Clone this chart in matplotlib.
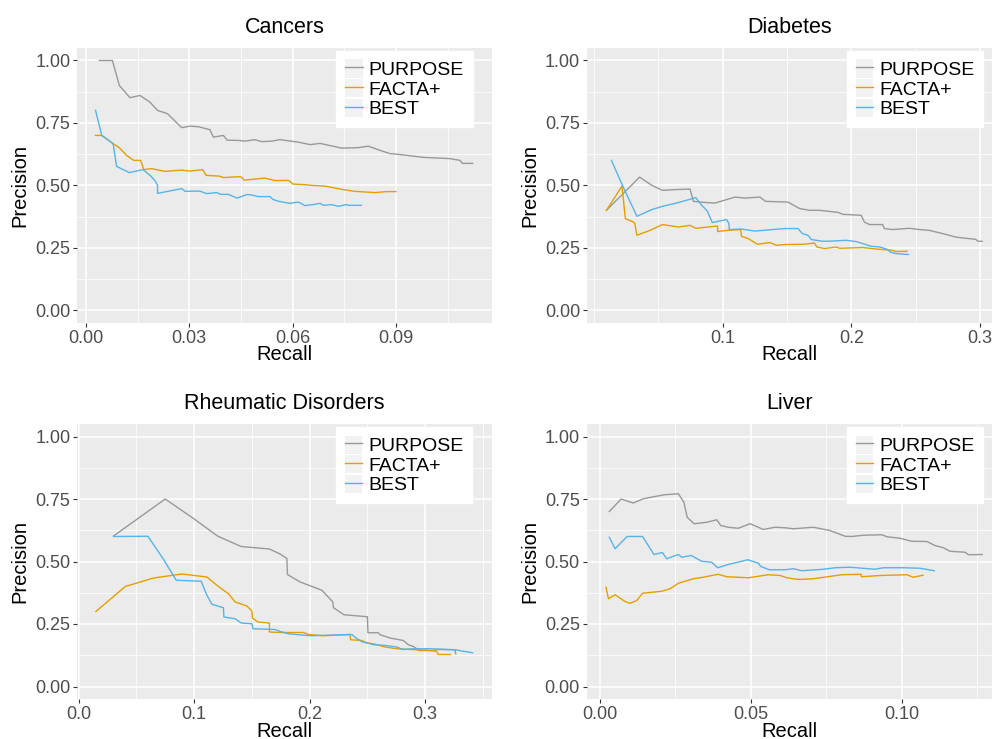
import matplotlib
matplotlib.use('Agg')
import matplotlib.pyplot as plt
from matplotlib.patches import Rectangle
from matplotlib.lines import Line2D
from matplotlib.legend_handler import HandlerTuple

plt.rcParams['font.family'] = ['Liberation Sans', 'DejaVu Sans']

# ---- data: Cancers ----
cancers_purpose_recall = [0.0039, 0.0077, 0.0097, 0.0128, 0.0157, 0.0186, 0.0208, 0.0237, 0.0278, 0.0302,
                          0.0326, 0.0360, 0.0370, 0.0399, 0.0410, 0.0442, 0.0462, 0.0491, 0.0510, 0.0539,
                          0.0563, 0.0617, 0.0651, 0.0680, 0.0743, 0.0791, 0.0820, 0.0854, 0.0883, 0.0902,
                          0.0980, 0.1057, 0.1086, 0.1093, 0.1123]
cancers_purpose_precision = [1.0, 1.0, 0.90, 0.851, 0.86, 0.833, 0.80, 0.787, 0.731, 0.737,
                             0.735, 0.723, 0.693, 0.70, 0.681, 0.68, 0.677, 0.683, 0.675, 0.677,
                             0.683, 0.673, 0.663, 0.668, 0.649, 0.651, 0.657, 0.64, 0.627, 0.625,
                             0.612, 0.607, 0.60, 0.588, 0.588]
cancers_facta_recall = [0.0028, 0.0046, 0.0079, 0.0097, 0.0118, 0.0139, 0.0159, 0.0168, 0.0191, 0.0229,
                        0.0278, 0.0302, 0.0339, 0.0349, 0.0387, 0.0399, 0.0449, 0.0460, 0.0520, 0.0549,
                        0.0588, 0.0602, 0.0631, 0.0655, 0.0694, 0.0747, 0.0781, 0.0839, 0.0873, 0.0900]
cancers_facta_precision = [0.70, 0.70, 0.667, 0.651, 0.62, 0.60, 0.60, 0.563, 0.567, 0.556,
                           0.561, 0.557, 0.563, 0.54, 0.537, 0.531, 0.535, 0.521, 0.529, 0.519,
                           0.52, 0.505, 0.503, 0.50, 0.497, 0.483, 0.476, 0.471, 0.475, 0.475]
cancers_best_recall = [0.0028, 0.0046, 0.0079, 0.0089, 0.0126, 0.0166, 0.0186, 0.0200, 0.0208, 0.0208,
                       0.0249, 0.0278, 0.0288, 0.0331, 0.0350, 0.0380, 0.0391, 0.0413, 0.0439, 0.0467,
                       0.0480, 0.0500, 0.0534, 0.0544, 0.0560, 0.0592, 0.0617, 0.0636, 0.0660, 0.0680,
                       0.0690, 0.0713, 0.0733, 0.0757, 0.0762, 0.0800]
cancers_best_precision = [0.80, 0.70, 0.667, 0.576, 0.551, 0.563, 0.54, 0.52, 0.50, 0.468,
                          0.479, 0.487, 0.476, 0.477, 0.467, 0.471, 0.464, 0.464, 0.449, 0.463,
                          0.462, 0.455, 0.455, 0.443, 0.436, 0.428, 0.433, 0.419, 0.423, 0.428,
                          0.42, 0.423, 0.416, 0.423, 0.42, 0.42]

# ---- data: Diabetes ----
diabetes_purpose_recall = [0.0097, 0.0355, 0.045, 0.0533, 0.0631, 0.0747, 0.0773, 0.085, 0.094, 0.1096,
                           0.1173, 0.129, 0.1333, 0.1508, 0.1599, 0.1676, 0.1754, 0.1896, 0.1934, 0.2077,
                           0.2102, 0.2141, 0.2244, 0.2257, 0.2321, 0.245, 0.2528, 0.2605, 0.2709, 0.2812,
                           0.289, 0.2967, 0.2985, 0.3018]
diabetes_purpose_precision = [0.40, 0.533, 0.50, 0.48, 0.483, 0.485, 0.436, 0.432, 0.429, 0.453,
                              0.449, 0.453, 0.436, 0.433, 0.407, 0.40, 0.40, 0.392, 0.384, 0.38,
                              0.353, 0.343, 0.343, 0.327, 0.323, 0.328, 0.323, 0.32, 0.307, 0.293,
                              0.288, 0.284, 0.276, 0.276]
diabetes_facta_recall = [0.0097, 0.0218, 0.0244, 0.0316, 0.0334, 0.0437, 0.0533, 0.0657, 0.0747, 0.0791,
                         0.0961, 0.0961, 0.1044, 0.114, 0.1147, 0.1199, 0.1271, 0.1367, 0.1418, 0.1483,
                         0.1625, 0.1715, 0.1733, 0.1792, 0.1883, 0.191, 0.2089, 0.2218, 0.2321, 0.2343,
                         0.2433]
diabetes_facta_precision = [0.40, 0.497, 0.367, 0.351, 0.30, 0.32, 0.343, 0.333, 0.34, 0.328,
                            0.337, 0.315, 0.32, 0.323, 0.296, 0.287, 0.264, 0.271, 0.26, 0.263,
                            0.264, 0.269, 0.253, 0.247, 0.253, 0.248, 0.251, 0.244, 0.24, 0.235,
                            0.236]
diabetes_best_recall = [0.0136, 0.0218, 0.0334, 0.045, 0.0533, 0.0657, 0.0791, 0.0838, 0.0881, 0.092,
                        0.1031, 0.1049, 0.1052, 0.1147, 0.125, 0.1483, 0.1586, 0.162, 0.1663, 0.169,
                        0.178, 0.1857, 0.196, 0.2037, 0.2089, 0.2154, 0.2224, 0.2283, 0.2303, 0.2343,
                        0.2445]
diabetes_best_precision = [0.60, 0.504, 0.376, 0.403, 0.416, 0.431, 0.451, 0.42, 0.397, 0.351,
                           0.363, 0.347, 0.323, 0.325, 0.317, 0.327, 0.327, 0.307, 0.30, 0.283,
                           0.276, 0.277, 0.28, 0.275, 0.267, 0.256, 0.253, 0.243, 0.233, 0.227,
                           0.223]

# ---- data: Rheumatic Disorders ----
rheum_purpose_recall = [0.0303, 0.075, 0.0995, 0.1206, 0.1407, 0.1652, 0.1745, 0.1803, 0.1808, 0.1918,
                        0.2106, 0.2201, 0.2206, 0.2298, 0.25, 0.2505, 0.2595, 0.261, 0.2696, 0.2811,
                        0.2855, 0.2898, 0.295, 0.307, 0.31, 0.3259, 0.3264]
rheum_purpose_precision = [0.602, 0.75, 0.672, 0.601, 0.56, 0.55, 0.53, 0.512, 0.448, 0.418,
                           0.385, 0.338, 0.315, 0.287, 0.279, 0.215, 0.215, 0.207, 0.194, 0.184,
                           0.167, 0.16, 0.144, 0.144, 0.148, 0.147, 0.131]
rheum_facta_recall = [0.015, 0.0404, 0.0649, 0.0894, 0.111, 0.1211, 0.1298, 0.1356, 0.1457, 0.15,
                      0.1505, 0.1552, 0.1652, 0.1652, 0.1745, 0.1946, 0.199, 0.2119, 0.235, 0.2355,
                      0.2452, 0.2495, 0.2552, 0.2653, 0.2754, 0.2956, 0.3014, 0.31, 0.3114, 0.3216]
rheum_facta_precision = [0.30, 0.40, 0.434, 0.45, 0.438, 0.40, 0.371, 0.338, 0.322, 0.302,
                         0.274, 0.258, 0.254, 0.218, 0.216, 0.216, 0.208, 0.203, 0.208, 0.187,
                         0.184, 0.174, 0.171, 0.158, 0.151, 0.146, 0.145, 0.141, 0.128, 0.128]
rheum_best_recall = [0.0303, 0.06, 0.0735, 0.0845, 0.1061, 0.1111, 0.1154, 0.1254, 0.1258, 0.1356,
                     0.1407, 0.1501, 0.1509, 0.1702, 0.1745, 0.1817, 0.2004, 0.2365, 0.2402, 0.2452,
                     0.2495, 0.2552, 0.2662, 0.2754, 0.2806, 0.2898, 0.3042, 0.3264, 0.3316, 0.3411]
rheum_best_precision = [0.60, 0.601, 0.509, 0.425, 0.421, 0.365, 0.329, 0.315, 0.278, 0.271,
                        0.254, 0.251, 0.231, 0.228, 0.22, 0.211, 0.203, 0.208, 0.194, 0.179,
                        0.175, 0.167, 0.164, 0.158, 0.148, 0.151, 0.151, 0.147, 0.142, 0.135]

# ---- data: Liver ----
liver_purpose_recall = [0.0031, 0.007, 0.011, 0.0144, 0.0182, 0.0215, 0.026, 0.0278, 0.0289, 0.0312,
                        0.0354, 0.0387, 0.04, 0.0425, 0.0458, 0.0497, 0.0519, 0.0541, 0.058, 0.0613,
                        0.0641, 0.0707, 0.0762, 0.0812, 0.0834, 0.0873, 0.0934, 0.0951, 0.0994, 0.1033,
                        0.1083, 0.111, 0.1138, 0.116, 0.121, 0.1221, 0.1267]
liver_purpose_precision = [0.70, 0.75, 0.734, 0.751, 0.76, 0.767, 0.771, 0.737, 0.677, 0.651,
                           0.657, 0.667, 0.644, 0.637, 0.633, 0.651, 0.64, 0.628, 0.637, 0.635,
                           0.631, 0.637, 0.624, 0.601, 0.60, 0.605, 0.607, 0.599, 0.593, 0.581,
                           0.58, 0.564, 0.555, 0.541, 0.537, 0.527, 0.528]
liver_facta_recall = [0.002, 0.0028, 0.005, 0.0083, 0.0099, 0.0122, 0.0141, 0.0205, 0.0232, 0.026,
                      0.0309, 0.0342, 0.0392, 0.042, 0.0492, 0.0558, 0.0597, 0.0619, 0.0657, 0.0707,
                      0.0801, 0.0865, 0.0866, 0.0928, 0.1017, 0.1038, 0.107]
liver_facta_precision = [0.397, 0.351, 0.367, 0.34, 0.333, 0.344, 0.373, 0.381, 0.391, 0.413,
                         0.431, 0.437, 0.449, 0.439, 0.435, 0.447, 0.444, 0.435, 0.428, 0.431,
                         0.447, 0.449, 0.439, 0.444, 0.447, 0.437, 0.445]
liver_best_recall = [0.0031, 0.005, 0.009, 0.0141, 0.0179, 0.0207, 0.0221, 0.026, 0.0271, 0.0302,
                     0.0337, 0.037, 0.039, 0.0425, 0.049, 0.0525, 0.0533, 0.0561, 0.0613, 0.0641,
                     0.0669, 0.074, 0.0779, 0.0829, 0.0911, 0.0939, 0.1005, 0.1061, 0.1108]
liver_best_precision = [0.597, 0.551, 0.60, 0.60, 0.528, 0.536, 0.511, 0.528, 0.517, 0.524,
                        0.501, 0.497, 0.475, 0.488, 0.507, 0.493, 0.48, 0.467, 0.467, 0.471,
                        0.463, 0.469, 0.475, 0.477, 0.469, 0.475, 0.475, 0.473, 0.463]

methods = ['PURPOSE', 'FACTA+', 'BEST']
colors = ['#999999', '#E69F00', '#56B4E9']

y_ticks = [0.0, 0.25, 0.5, 0.75, 1.0]
y_labels = ['0.00', '0.25', '0.50', '0.75', '1.00']

W, H = 992, 739
fig = plt.figure(figsize=(W / 100, H / 100), dpi=100)


def pixel_axes(left, top, right, bottom):
    return fig.add_axes([left / W, (H - bottom) / H, (right - left) / W, (bottom - top) / H])


panels = [
    dict(title='Cancers', box=(77.3, 48, 492, 322.7), xlim=(-0.0025, 0.1179),
         xticks=[0.0, 0.03, 0.06, 0.09], xlabels=['0.00', '0.03', '0.06', '0.09'],
         xminor=[0.015, 0.045, 0.075, 0.105], legend_anchor=(0.953, 0.99),
         series=[(cancers_purpose_recall, cancers_purpose_precision),
                 (cancers_facta_recall, cancers_facta_precision),
                 (cancers_best_recall, cancers_best_precision)]),
    dict(title='Diabetes', box=(587, 48, 992, 322.7), xlim=(-0.0054, 0.3094),
         xticks=[0.1, 0.2, 0.3], xlabels=['0.1', '0.2', '0.3'],
         xminor=[0.0, 0.05, 0.15, 0.25], legend_anchor=(0.978, 0.99),
         series=[(diabetes_purpose_recall, diabetes_purpose_precision),
                 (diabetes_facta_recall, diabetes_facta_precision),
                 (diabetes_best_recall, diabetes_best_precision)]),
    dict(title='Rheumatic Disorders', box=(77.3, 424, 491.7, 699), xlim=(-0.0011, 0.3576),
         xticks=[0.0, 0.1, 0.2, 0.3], xlabels=['0.0', '0.1', '0.2', '0.3'],
         xminor=[0.05, 0.15, 0.25, 0.35], legend_anchor=(0.953, 0.99),
         series=[(rheum_purpose_recall, rheum_purpose_precision),
                 (rheum_facta_recall, rheum_facta_precision),
                 (rheum_best_recall, rheum_best_precision)]),
    dict(title='Liver', box=(586.7, 424, 992, 699), xlim=(-0.0044, 0.1299),
         xticks=[0.0, 0.05, 0.1], xlabels=['0.00', '0.05', '0.10'],
         xminor=[0.025, 0.075, 0.125], legend_anchor=(0.978, 0.99),
         series=[(liver_purpose_recall, liver_purpose_precision),
                 (liver_facta_recall, liver_facta_precision),
                 (liver_best_recall, liver_best_precision)]),
]

for p in panels:
    ax = pixel_axes(*p['box'])
    ax.set_facecolor('#EBEBEB')
    for s in ax.spines.values():
        s.set_visible(False)

    # one line per method, legend keys get ggplot-like grey squares
    handles = []
    for (rx, py), name, col in zip(p['series'], methods, colors):
        ax.plot(rx, py, color=col, lw=1.0, label=name, zorder=3)
        handles.append((Rectangle((0, 0), 1, 1, facecolor='#F2F2F2', edgecolor='none'),
                        Line2D([], [], color=col, lw=1.0)))

    ax.set_xlim(*p['xlim'])
    ax.set_ylim(-0.05, 1.05)
    ax.set_xticks(p['xticks'])
    ax.set_xticklabels(p['xlabels'])
    ax.set_xticks(p['xminor'], minor=True)
    ax.set_yticks(y_ticks)
    ax.set_yticklabels(y_labels)
    ax.set_yticks([0.125, 0.375, 0.625, 0.875], minor=True)
    ax.grid(which='major', color='white', lw=1.1, zorder=0)
    ax.grid(which='minor', color='white', lw=0.55, zorder=0)
    ax.set_axisbelow(True)
    ax.tick_params(which='major', length=3, width=0.8, color='#333333', labelcolor='#4D4D4D',
                   labelsize=13, pad=2)
    ax.tick_params(which='minor', length=0)

    ax.set_title(p['title'], fontsize=15.5, pad=11, color='black')
    ax.set_xlabel('Recall', fontsize=14.5, labelpad=-1)
    ax.set_ylabel('Precision', fontsize=14.5, labelpad=4)

    leg = ax.legend(handles, methods, handler_map={tuple: HandlerTuple(ndivide=1)},
                    loc='upper right', bbox_to_anchor=p['legend_anchor'], frameon=True,
                    fancybox=False, edgecolor='white', facecolor='white', framealpha=1,
                    fontsize=14, handlelength=0.9, handleheight=1.05, handletextpad=0.3,
                    labelspacing=0.0, borderpad=0.45, borderaxespad=0)
    leg.set_zorder(5)

fig.savefig('out.png', dpi=100)
